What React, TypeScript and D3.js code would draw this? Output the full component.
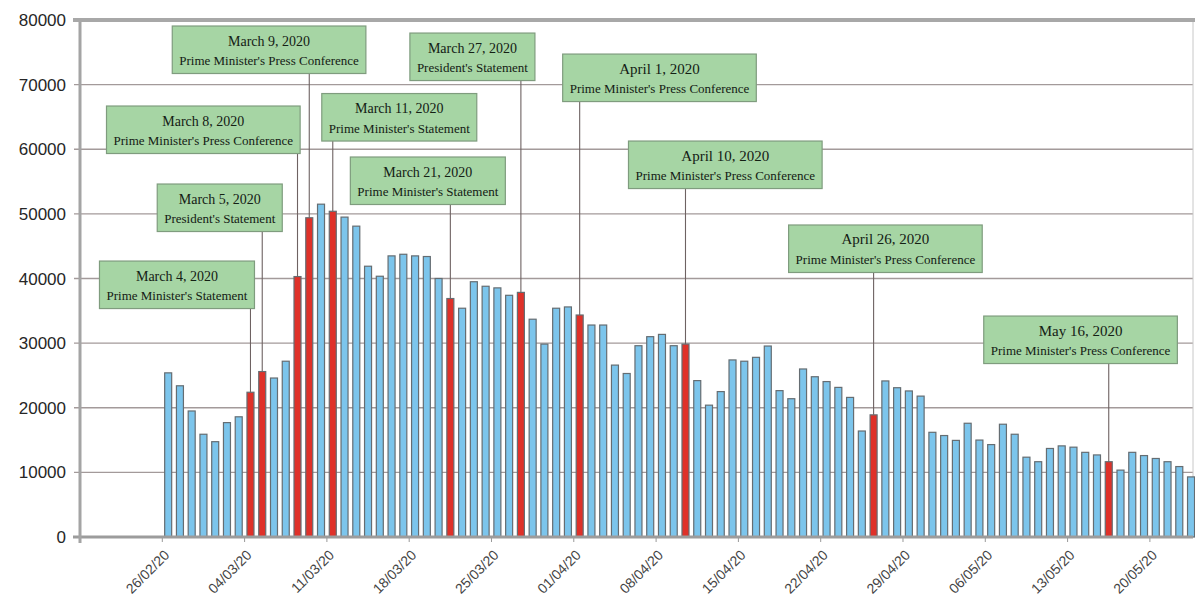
import React, { useEffect, useRef } from 'react';
import * as d3 from 'd3';

const startDay = '2020-02-26';
const dailyValues = [
  25400, 23400, 19500, 15900,
  14750, 17700, 18600, 22400, 25600, 24600, 27200, 40300, 49400, 51500, 50400, 49500, 48100, 41900, 40350, 43500,
  43750, 43500, 43400, 40000, 36900, 35400, 39500, 38800, 38550, 37400, 37850, 33700, 29850, 35400, 35600,
  34350, 32800, 32800, 26600, 25300, 29600, 31000, 31350, 29600, 29850, 24200, 20400, 22500, 27400, 27200,
  27800, 29550, 22650, 21400, 26000, 24800, 24050, 23150, 21600, 16400, 18900, 24150, 23100, 22600, 21800,
  16200, 15700, 14950, 17600, 15000, 14300, 17450, 15900, 12350, 11650, 13700, 14100, 13900, 13100, 12700,
  11650, 10350, 13100, 12600, 12150, 11650, 10900, 9300,
];
const xTickLabels = ['26/02/20', '04/03/20', '11/03/20', '18/03/20', '25/03/20', '01/04/20', '08/04/20', '15/04/20', '22/04/20', '29/04/20', '06/05/20', '13/05/20', '20/05/20'];
const yTickValues = [0, 10000, 20000, 30000, 40000, 50000, 60000, 70000, 80000];

const eventDays = ['2020-03-04', '2020-03-05', '2020-03-08', '2020-03-09', '2020-03-11', '2020-03-21', '2020-03-27', '2020-04-01', '2020-04-10', '2020-04-26', '2020-05-16'];
const eventTitles = ['March 4, 2020', 'March 5, 2020', 'March 8, 2020', 'March 9, 2020', 'March 11, 2020', 'March 21, 2020', 'March 27, 2020', 'April 1, 2020', 'April 10, 2020', 'April 26, 2020', 'May 16, 2020'];
const eventSubtitles = [
  "Prime Minister's Statement", "President's Statement", "Prime Minister's Press Conference",
  "Prime Minister's Press Conference", "Prime Minister's Statement", "Prime Minister's Statement",
  "President's Statement", "Prime Minister's Press Conference", "Prime Minister's Press Conference",
  "Prime Minister's Press Conference", "Prime Minister's Press Conference",
];

// layout of the callout boxes (kept apart from the data)
const boxLeftOffset = [-151, -105, -191, -137, -11, -100, -111, -17, -57, -85, -125];
const boxTopValue = [42700, 54620, 66690, 79070, 68620, 58800, 77980, 74730, 61270, 48280, 34190];
const titleFontSize = [14, 14, 14, 14, 14, 14, 14, 15, 15, 15, 15];

const W = 1195, H = 608;
const L = 80, R = 1193, T = 20, B = 537;

export default function App() {
  const ref = useRef<SVGSVGElement>(null);
  useEffect(() => {
    const svg = d3.select(ref.current);
    svg.selectAll('*').remove();
    const parseIso = d3.timeParse('%Y-%m-%d');
    const parseTick = d3.timeParse('%d/%m/%y');
    const start = parseIso(startDay)!;
    const x = d3.scaleTime()
      .domain([d3.timeDay.offset(start, -7), d3.timeHour.offset(d3.timeDay.offset(start, dailyValues.length - 1), 16)])
      .range([L, R]);
    const y = d3.scaleLinear().domain([0, 80000]).range([B, T]);
    const center = (d: Date) => x(d3.timeHour.offset(d, 12));
    const dates = dailyValues.map((_, i) => d3.timeDay.offset(start, i));
    const evDates = eventDays.map(s => parseIso(s)!);
    const evSet = new Set(evDates.map(d => +d));
    const valueAt = (d: Date) => dailyValues[d3.timeDay.count(start, d)];

    svg.append('rect').attr('width', W).attr('height', H).attr('fill', '#ffffff');

    // grid
    svg.append('g').selectAll('line').data(yTickValues.filter(v => v > 0 && v < 80000)).join('line')
      .attr('x1', L - 6).attr('x2', R).attr('y1', d => y(d)).attr('y2', d => y(d))
      .attr('stroke', '#a39a9a').attr('stroke-width', 1.3);
    // right border
    svg.append('line').attr('x1', R).attr('x2', R).attr('y1', T).attr('y2', B)
      .attr('stroke', '#c8c8c8').attr('stroke-width', 1);

    // bars
    const bw = 7;
    svg.append('g').selectAll('rect').data(dates).join('rect')
      .attr('x', d => center(d) - bw / 2)
      .attr('width', bw)
      .attr('y', (d, i) => y(dailyValues[i]))
      .attr('height', (d, i) => B - y(dailyValues[i]))
      .attr('fill', d => evSet.has(+d) ? '#df3129' : '#7cc5ec')
      .attr('stroke', '#656d72').attr('stroke-width', 1.2);

    // y-axis labels
    svg.append('g').selectAll('text').data(yTickValues).join('text')
      .attr('x', 66).attr('y', d => y(d)).attr('dy', '0.36em')
      .attr('text-anchor', 'end')
      .attr('font-family', "'Liberation Sans', Arial, sans-serif")
      .attr('font-size', 17).attr('fill', '#262626')
      .text(d => String(d));

    // x ticks and labels
    const tickDates = xTickLabels.map(s => parseTick(s)!);
    svg.append('g').selectAll('line').data(tickDates).join('line')
      .attr('x1', d => x(d)).attr('x2', d => x(d)).attr('y1', B).attr('y2', B + 5)
      .attr('stroke', '#999').attr('stroke-width', 1);
    svg.append('g').selectAll('text').data(tickDates).join('text')
      .attr('transform', d => `translate(${x(d) + 8},${B + 19}) rotate(-45)`)
      .attr('text-anchor', 'end')
      .attr('font-family', "'Liberation Sans', Arial, sans-serif")
      .attr('font-size', 14).attr('fill', '#444')
      .text((d, i) => xTickLabels[i]);

    // frame axes
    svg.append('line').attr('x1', L - 7).attr('x2', R).attr('y1', B).attr('y2', B)
      .attr('stroke', '#9c9c9c').attr('stroke-width', 3);
    svg.append('line').attr('x1', L).attr('x2', L).attr('y1', T - 1).attr('y2', B + 6)
      .attr('stroke', '#a4a4a4').attr('stroke-width', 3);
    svg.append('line').attr('x1', L - 7).attr('x2', R + 2).attr('y1', T).attr('y2', T)
      .attr('stroke', '#a8a8a8').attr('stroke-width', 4);

    // callouts
    const g = svg.append('g');
    evDates.forEach((d, i) => {
      const cx = center(d);
      const top = y(boxTopValue[i]);
      const bh = 47.5;
      const grp = g.append('g');
      const t1 = grp.append('text').attr('font-family', "'Liberation Serif', 'Times New Roman', serif")
        .attr('font-size', titleFontSize[i]).attr('fill', '#142014').attr('text-anchor', 'middle')
        .text(eventTitles[i]);
      const t2 = grp.append('text').attr('font-family', "'Liberation Serif', 'Times New Roman', serif")
        .attr('font-size', 13).attr('fill', '#142014').attr('text-anchor', 'middle')
        .text(eventSubtitles[i]);
      const w1 = (t1.node() as SVGTextElement).getComputedTextLength();
      const w2 = (t2.node() as SVGTextElement).getComputedTextLength();
      const bwid = Math.max(w1, w2) + 14;
      const left = cx + boxLeftOffset[i];
      // connector
      g.insert('line', ':first-child')
        .attr('x1', cx).attr('x2', cx).attr('y1', top + bh).attr('y2', y(valueAt(d)))
        .attr('stroke', '#6e6262').attr('stroke-width', 1.1);
      grp.insert('rect', ':first-child')
        .attr('x', left).attr('y', top).attr('width', bwid).attr('height', bh)
        .attr('fill', '#a6d5a4').attr('stroke', '#7f9c7e').attr('stroke-width', 1.2);
      t1.attr('x', left + bwid / 2).attr('y', top + 19.5);
      t2.attr('x', left + bwid / 2).attr('y', top + 39);
    });
  }, []);
  return (
    <svg ref={ref} width={W} height={H}
      style={{ position: 'absolute', left: 0, top: 0, display: 'block' }} />
  );
}
